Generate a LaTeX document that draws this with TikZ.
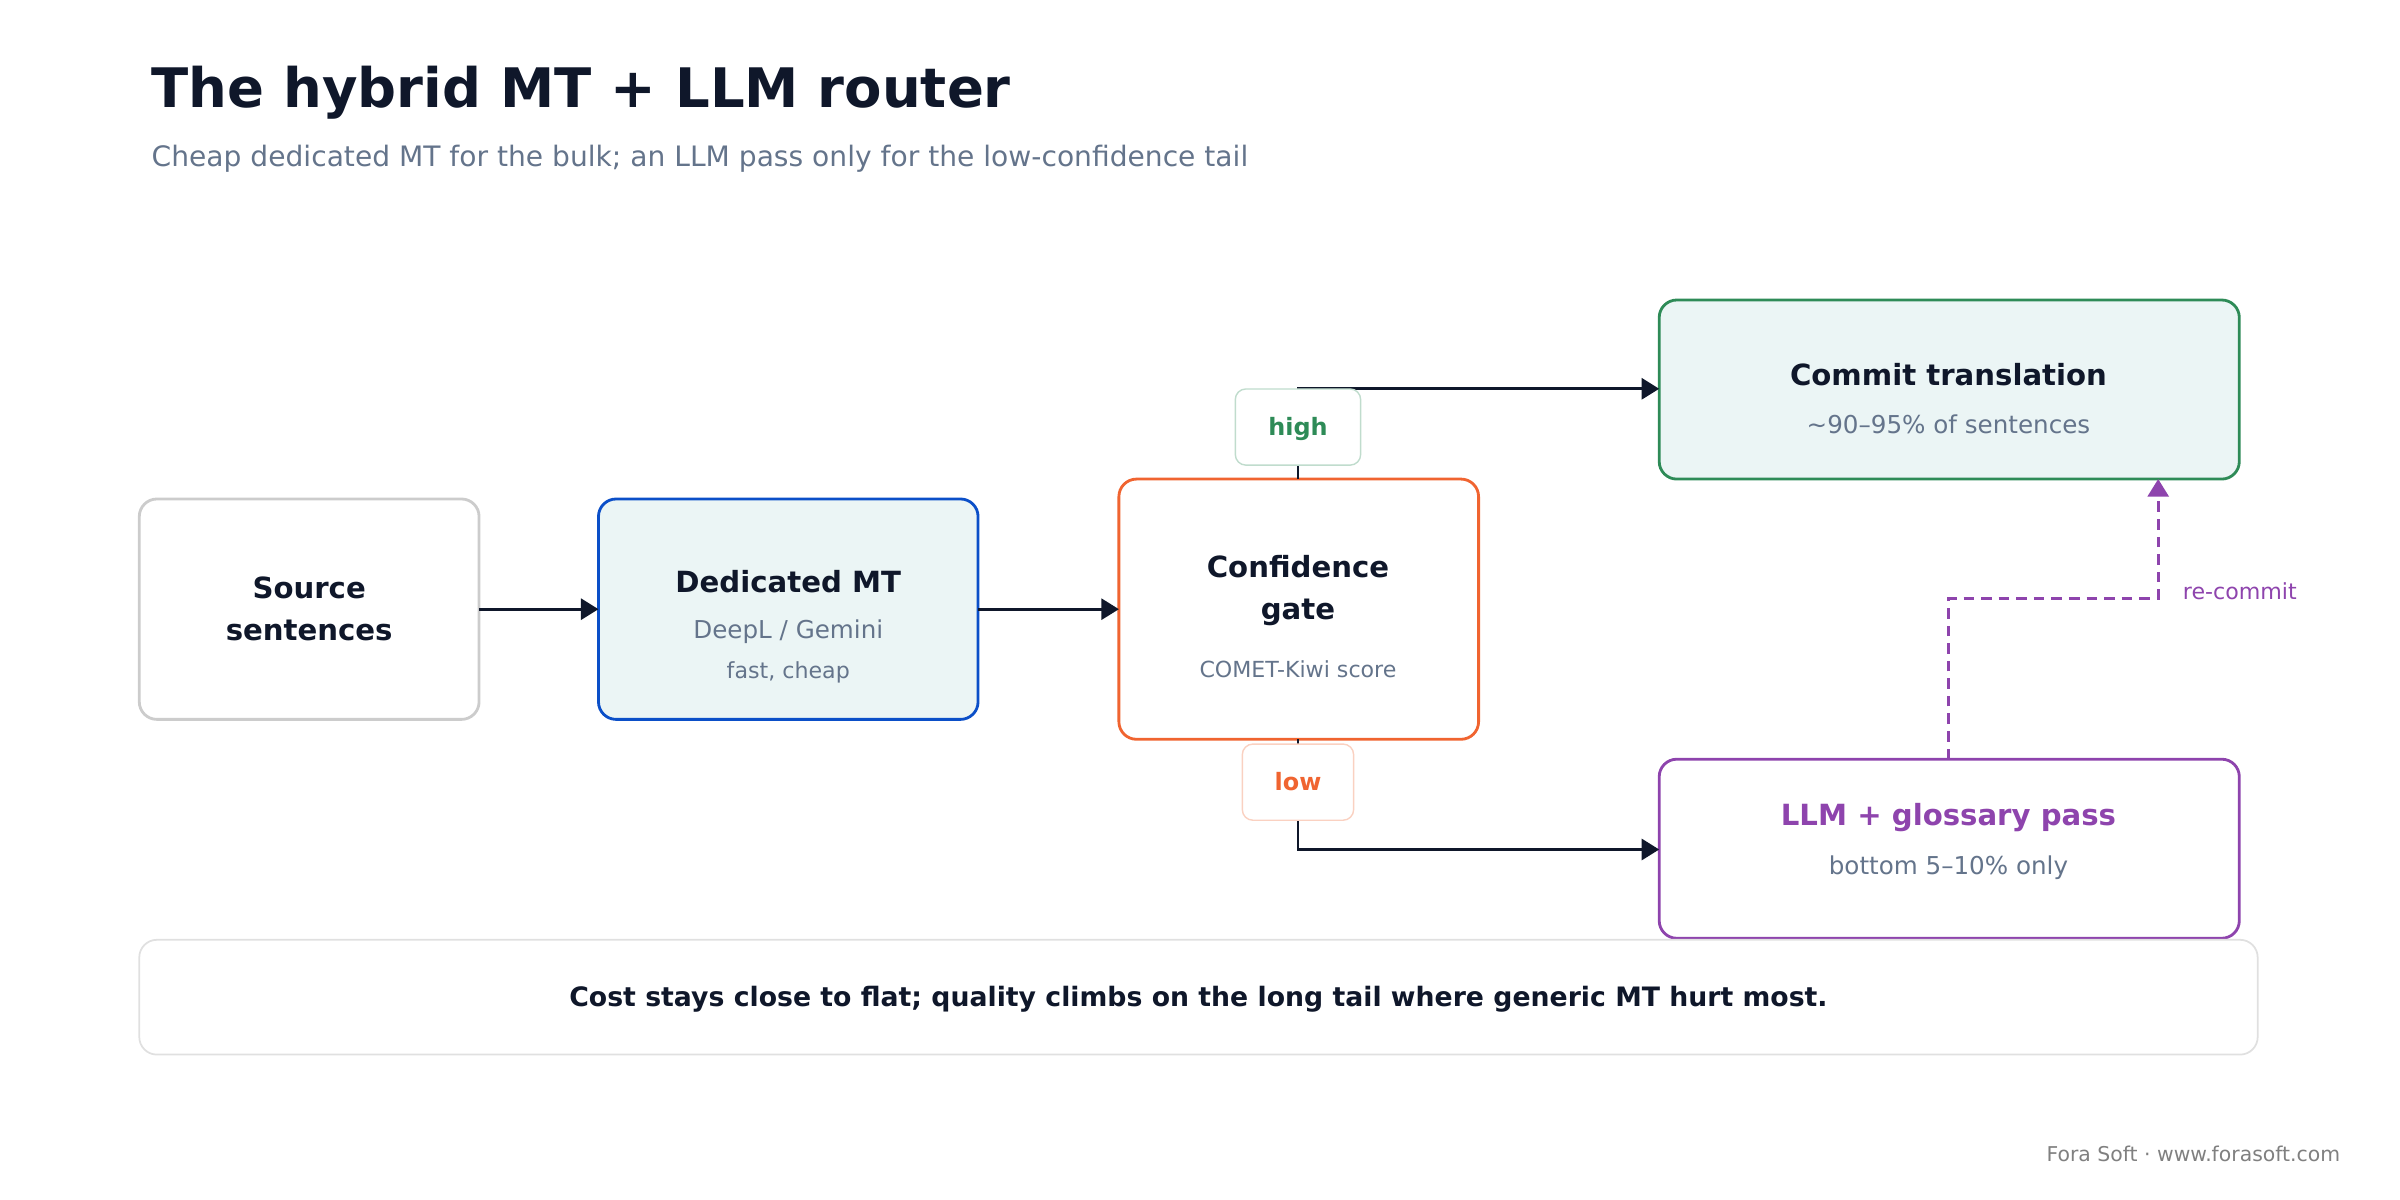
\documentclass[tikz,border=0pt]{standalone}
\usepackage{fontspec}
\setmainfont{DejaVu Sans}
\usetikzlibrary{arrows.meta, positioning, calc}
\definecolor{ink}{HTML}{0F172A}
\definecolor{muted}{HTML}{64748B}
\definecolor{tealbg}{HTML}{EBF5F5}
\definecolor{mtblue}{HTML}{0B4FC8}
\definecolor{gateorange}{HTML}{F06430}
\definecolor{okgreen}{HTML}{2E8B57}
\definecolor{llmpurple}{HTML}{8E44AD}

\begin{document}
\begin{tikzpicture}[
        x=0.01531cm, y=-0.01531cm,
        >={Triangle[length=5pt, width=6pt]},
        box/.style={draw, rounded corners=5pt, line width=0.8pt, inner sep=0pt},
        flow/.style={->, draw=ink, line width=0.8pt},
        tag/.style={draw, rounded corners=3pt, fill=white, line width=0.4pt, font=\fontsize{6.8}{8}\selectfont\bfseries},
        head/.style={font=\fontsize{8.3}{12}\selectfont\bfseries, text=ink, align=center},
        note/.style={font=\fontsize{7}{9}\selectfont, text=muted}
    ]
    \useasboundingbox (0,0) rectangle (1568,784);

    % header
    \node[anchor=base west, font=\fontsize{15.5}{18}\selectfont\bfseries, text=ink] (title) at (91,70) {The hybrid MT + LLM router};
    \node[anchor=base west, font=\fontsize{8}{10}\selectfont, text=muted] (subtitle) at (91,109) {Cheap dedicated MT for the bulk; an LLM pass only for the low-confidence tail};

    % boxes
    \draw[box, draw=black!20, fill=white] (91,326) rectangle (313,470);
    \node[head] (src) at (202,398) {Source\\sentences};
    \coordinate (srcR) at (313,398);

    \draw[box, draw=mtblue, fill=tealbg] (391,326) rectangle (639,470);
    \coordinate (mtL) at (391,398);
    \coordinate (mtR) at (639,398);
    \node[head] (mt) at (515,380) {Dedicated MT};
    \node[note] (mtsub) at (515,413) {DeepL / Gemini};
    \node[note, font=\fontsize{6.3}{8}\selectfont] (mtsub2) at (515,439) {fast, cheap};

    \draw[box, draw=gateorange, fill=white] (731,313) rectangle (966,483);
    \coordinate (gateL) at (731,398);
    \coordinate (gateT) at (848,313);
    \coordinate (gateB) at (848,483);
    \node[head] (gate) at (848,386) {Confidence\\gate};
    \node[note, font=\fontsize{6.3}{8}\selectfont] (gatesub) at (848,437) {COMET-Kiwi score};

    \draw[box, draw=okgreen, fill=tealbg] (1084,196) rectangle (1463,313);
    \coordinate (commitL) at (1084,254);
    \coordinate (commitB) at (1410,313);
    \node[head] (commit) at (1273,245) {Commit translation};
    \node[note] (commitsub) at (1273,277) {\textasciitilde 90–95\% of sentences};

    \draw[box, draw=llmpurple, fill=white] (1084,496) rectangle (1463,613);
    \coordinate (llmL) at (1084,555);
    \coordinate (llmT) at (1273,496);
    \node[head, text=llmpurple] (llm) at (1273,534) {LLM + glossary pass};
    \node[note] (llmsub) at (1273,567) {bottom 5–10\% only};

    % connectors
    \draw[flow] (srcR) -- (mtL);
    \draw[flow] (mtR) -- (gateL);
    \draw[flow] (gateT) |- (commitL);
    \draw[flow] (gateB) |- (llmL);
    \node[tag, draw=okgreen!30, text=okgreen, minimum width=77\pgflinewidth] (high) at (848,279) {\makebox[29pt]{high}\rule[-5pt]{0pt}{15pt}};
    \node[tag, draw=gateorange!30, text=gateorange] (low) at (848,511) {\makebox[25pt]{low}\rule[-5pt]{0pt}{15pt}};
    \draw[->, draw=llmpurple, line width=0.8pt, dash pattern=on 3pt off 2pt, >={Triangle[length=5pt, width=6pt]}, llmpurple]
        (llmT) -- (1273,391) -| (commitB);
    \node[anchor=west, font=\fontsize{6.3}{8}\selectfont, text=llmpurple] (recommit) at (1418,386) {re-commit};

    % takeaway
    \draw[rounded corners=5pt, draw=black!12, line width=0.5pt] (91,614) rectangle (1475,689);
    \node[font=\fontsize{7.6}{9}\selectfont\bfseries, text=ink] (takeaway) at (783,653) {Cost stays close to flat; quality climbs on the long tail where generic MT hurt most.};

    \node[anchor=base east, font=\fontsize{5.8}{7}\selectfont, text=gray] (footer) at (1537,759) {Fora Soft · www.forasoft.com};
\end{tikzpicture}
\end{document}
